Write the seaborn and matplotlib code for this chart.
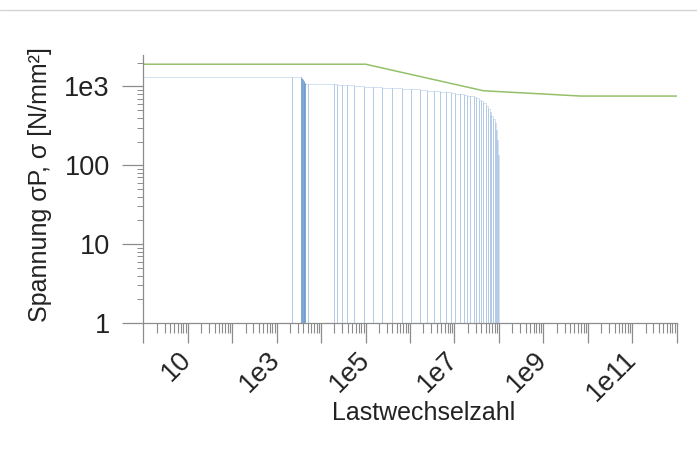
import matplotlib
matplotlib.use('Agg')
import matplotlib.pyplot as plt
from matplotlib.lines import Line2D
from matplotlib.ticker import LogLocator, FixedLocator, FixedFormatter, NullFormatter
import seaborn as sns
import pandas as pd
import numpy as np

# Load spectrum: right edge (cumulative cycles) of each step and its stress level
step_cycles = [2.2e3, 3.5e3, 3.56e3, 3.62e3, 3.68e3, 3.74e3, 3.8e3, 3.86e3, 3.92e3, 3.98e3,
               4.04e3, 4.1e3, 4.16e3, 4.22e3, 4.28e3, 4.34e3, 4.4e3,
               5.2e3, 2.0e4, 2.27e4, 2.95e4, 3.8e4, 5.6e4, 9.0e4, 1.47e5, 2.34e5, 3.94e5,
               6.6e5, 1.05e6, 1.64e6, 2.4e6, 3.39e6, 4.8e6, 6.6e6, 8.3e6, 1.05e7, 1.32e7,
               1.62e7, 1.9e7, 2.29e7, 2.69e7, 3.1e7, 3.55e7, 4.03e7, 4.47e7, 5.0e7, 5.6e7,
               6.2e7, 6.8e7, 7.4e7, 8.0e7, 8.5e7, 9.0e7, 9.4e7, 9.8e7]
step_stress = [1310, 1310, 1300, 1285, 1270, 1255, 1240, 1225, 1210, 1195,
               1180, 1165, 1150, 1135, 1115, 1095, 1080,
               1075, 1070, 1060, 1050, 1040, 1030, 1010, 995, 980, 965,
               950, 935, 920, 900, 885, 870, 855, 840, 825, 810,
               795, 780, 765, 750, 730, 710, 680, 650, 610, 560,
               515, 470, 425, 390, 340, 280, 210, 135]
start_cycles = 1.0
floor_stress = 1.0

# S-N (Woehler) curve
sn_cycles = [1, 1e5, 4.5e7, 7e9, 1e12]
sn_stress = [1910, 1910, 880, 754, 754]

x_major = [1, 10, 100, 1e3, 1e4, 1e5, 1e6, 1e7, 1e8, 1e9, 1e10, 1e11, 1e12]
x_labels = ['', '10', '', '1e3', '', '1e5', '', '1e7', '', '1e9', '', '1e11', '']
y_major = [1, 10, 100, 1000]
y_labels = ['1', '10', '100', '1e3']

# build one closed outline per step (drops to the floor at both edges)
px, py, uid = [], [], []
left = start_cycles
for i, (right, s) in enumerate(zip(step_cycles, step_stress)):
    px += [left, left, right, right]
    py += [floor_stress, s, s, floor_stress]
    uid += [i] * 4
    left = right
steps = pd.DataFrame({'cycles': px, 'stress': py, 'step': uid})
sn = pd.DataFrame({'cycles': sn_cycles, 'stress': sn_stress})

sns.set_style('ticks')
plt.rcParams['font.family'] = ['Liberation Sans', 'DejaVu Sans']

fig = plt.figure(figsize=(6.97, 4.5), dpi=100)
ax = fig.add_axes([0.2056, 0.2822, 0.7653, 0.5956])

sns.lineplot(data=steps, x='cycles', y='stress', units='step', sort=False,
             estimator=None, color='#5f8fca', linewidth=0.55, alpha=0.35, ax=ax)
sns.lineplot(data=sn, x='cycles', y='stress', sort=False, estimator=None,
             color='#95c06a', linewidth=1.1, ax=ax)

ax.set_xscale('log')
ax.set_yscale('log')
ax.set_xlim(1, 1e12)
ax.set_ylim(1, 2500)

ax.xaxis.set_major_locator(FixedLocator(x_major))
ax.xaxis.set_major_formatter(FixedFormatter(x_labels))
ax.xaxis.set_minor_locator(LogLocator(base=10, subs=np.arange(2, 10), numticks=20))
ax.xaxis.set_minor_formatter(NullFormatter())
ax.yaxis.set_major_locator(FixedLocator(y_major))
ax.yaxis.set_major_formatter(FixedFormatter(y_labels))
ax.yaxis.set_minor_locator(LogLocator(base=10, subs=np.arange(2, 10), numticks=20))
ax.yaxis.set_minor_formatter(NullFormatter())

grey = '#8c8c8c'
for side in ['top', 'right']:
    ax.spines[side].set_visible(False)
for side in ['left', 'bottom']:
    ax.spines[side].set_color(grey)
    ax.spines[side].set_linewidth(0.9)

ax.tick_params(axis='x', which='major', length=14.5, width=0.9, color=grey,
               labelsize=19.5, labelcolor='#222222', pad=9)
ax.tick_params(axis='x', which='minor', length=7, width=0.8, color=grey)
ax.tick_params(axis='y', which='major', length=15, width=0.9, color=grey,
               labelsize=19.5, labelcolor='#222222', pad=9)
ax.tick_params(axis='y', which='minor', length=4, width=0.7, color=grey)
plt.setp(ax.get_xticklabels(), rotation=45, ha='right', va='center',
         rotation_mode='anchor')

ax.set_xlabel('Lastwechselzahl', fontsize=18, color='#222222')
ax.set_ylabel('Spannung σP, σ [N/mm²]', fontsize=18, color='#222222')
ax.xaxis.set_label_coords(0.525, -0.29)
ax.yaxis.set_label_coords(-0.171, 0.515)

# thin separator line at the top of the image
fig.add_artist(Line2D([0, 1], [0.978, 0.978], transform=fig.transFigure,
                      color='#d4d4d4', linewidth=1.0))

fig.savefig('out.png', dpi=100)
